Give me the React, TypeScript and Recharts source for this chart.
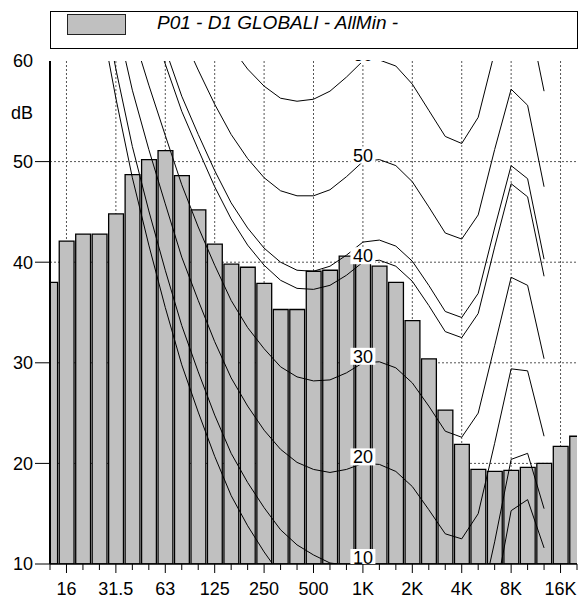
import React from 'react';
import { ComposedChart, Bar, Line, XAxis, YAxis, CartesianGrid, Legend } from 'recharts';

// ---------- data ----------
const seriesName = 'P01 - D1 GLOBALI - AllMin -';

const bands = [
  '12.5', '16', '20', '25', '31.5', '40', '50', '63', '80', '100', '125', '160', '200', '250', '315', '400',
  '500', '630', '800', '1K', '1.25K', '1.6K', '2K', '2.5K', '3.15K', '4K', '5K', '6.3K', '8K', '10K', '12.5K',
  '16K', '20K',
];
const shownLabels = ['16', '31.5', '63', '125', '250', '500', '1K', '2K', '4K', '8K', '16K'];
const yTicks = [10, 20, 30, 40, 50, 60];
const gridLevels = [20, 30, 40, 50];

// measured third-octave levels (dB)
const levels = [
  38.0, 42.1, 42.8, 42.8, 44.8, 48.7, 50.2, 51.1, 48.6, 45.2, 41.8, 39.8, 39.5, 37.9, 35.3, 35.3,
  39.1, 39.2, 40.6, 40.6, 39.6, 38.0, 34.2, 30.4, 25.3, 21.9, 19.4, 19.2, 19.3, 19.6, 20.0, 21.7, 22.7,
];

// equal-loudness contours, 20 Hz .. 12.5 kHz
const contourStart = '20';
const threshold = [74.3, 65.0, 56.3, 48.4, 41.7, 35.5, 29.8, 25.1, 20.7, 16.8, 13.8, 11.2, 8.9, 7.2, 6.0, 5.0, 4.4, 4.2, 3.7, 2.6, 1.0, -1.2, -3.6, -3.9, -1.1, 6.6, 15.3, 16.4, 11.6];
const phon10 = [76.8, 67.7, 59.2, 51.5, 45.1, 39.2, 33.7, 29.1, 24.8, 21.0, 18.1, 15.6, 13.4, 11.9, 10.9, 10.1, 9.9, 10.0, 9.7, 8.7, 7.2, 5.0, 2.6, 2.2, 4.8, 12.2, 20.4, 21.0, 15.5];
const phon20 = [81.3, 72.5, 64.3, 57.1, 51.2, 45.8, 40.5, 36.2, 32.1, 28.5, 25.7, 23.3, 21.4, 20.1, 19.4, 19.1, 19.4, 20.0, 19.9, 19.2, 17.7, 15.4, 13.0, 12.5, 15.0, 22.0, 29.4, 29.2, 22.7];
const phon30 = [86.0, 77.6, 69.7, 62.9, 57.6, 52.6, 47.7, 43.5, 39.7, 36.2, 33.5, 31.4, 29.6, 28.6, 28.2, 28.3, 29.0, 30.0, 30.1, 29.5, 28.0, 25.7, 23.2, 22.6, 25.0, 31.7, 38.5, 37.7, 30.4];
const phon40 = [91.0, 82.9, 75.4, 69.0, 64.3, 59.7, 55.0, 51.2, 47.5, 44.3, 41.7, 39.7, 38.2, 37.4, 37.3, 37.7, 38.7, 40.0, 40.2, 39.6, 38.1, 35.7, 33.1, 32.5, 34.9, 41.5, 47.8, 46.5, 38.6];
const phon42 = [92.0, 84.0, 76.5, 70.3, 65.6, 61.2, 56.5, 52.7, 49.1, 45.9, 43.4, 41.4, 40.0, 39.2, 39.1, 39.6, 40.7, 42.0, 42.2, 41.6, 40.1, 37.7, 35.1, 34.5, 36.9, 43.4, 49.6, 48.3, 40.3];
const phon50 = [96.2, 88.5, 81.3, 75.4, 71.3, 67.1, 62.7, 59.1, 55.7, 52.7, 50.3, 48.4, 47.1, 46.6, 46.6, 47.2, 48.5, 50.0, 50.2, 49.6, 48.0, 45.5, 42.9, 42.3, 44.7, 51.2, 57.2, 55.6, 47.5];
const phon60 = [101.7, 94.4, 87.6, 82.1, 78.6, 74.8, 70.6, 67.3, 64.2, 61.4, 59.2, 57.5, 56.3, 56.0, 56.2, 57.0, 58.4, 60.0, 60.1, 59.5, 57.7, 55.1, 52.5, 51.8, 54.4, 60.9, 66.7, 65.0, 57.0];

const contours = [
  { key: 't', values: threshold, label: '' },
  { key: 'p42', values: phon42, label: '' },
  { key: 'p10', values: phon10, label: '10' },
  { key: 'p20', values: phon20, label: '20' },
  { key: 'p30', values: phon30, label: '30' },
  { key: 'p40', values: phon40, label: '40' },
  { key: 'p50', values: phon50, label: '50' },
  { key: 'p60', values: phon60, label: '60' },
];
const contourLabelBand = '1K';

// ---------- layout ----------
const CHART_W = 579;
const CHART_H = 599;
const MARGIN = { top: 61, right: 2, bottom: 0, left: 0 };
const Y_AXIS_W = 50;
const X_AXIS_H = 35;
const PLOT_LEFT = MARGIN.left + Y_AXIS_W;
const PLOT_TOP = MARGIN.top;
const PLOT_W = CHART_W - MARGIN.right - PLOT_LEFT;
const PLOT_H = CHART_H - MARGIN.bottom - X_AXIS_H - PLOT_TOP;
const FONT = "'Liberation Sans', Arial, Helvetica, sans-serif";

const startIdx = bands.indexOf(contourStart);
const rows = bands.map((band, i) => {
  const row: Record<string, any> = { i, band, level: levels[i] };
  contours.forEach((c) => {
    const k = i - startIdx;
    row[c.key] = k >= 0 && k < c.values.length ? c.values[k] : null;
  });
  return row;
});
const allIdx = rows.map((r) => r.i);
const octaveIdx = shownLabels.map((l) => bands.indexOf(l));
const labelIdx = bands.indexOf(contourLabelBand);

const XTick = (props: any) => {
  const { x, y, payload } = props;
  const label = bands[payload.value];
  const major = shownLabels.includes(label);
  return (
    <g>
      <line x1={x} x2={x} y1={y} y2={y + (major ? 9 : 6)} stroke="#000" strokeWidth={1} />
      {major && (
        <text x={x} y={y + 31} textAnchor="middle" fontSize={18} fontFamily={FONT} fill="#000">
          {label}
        </text>
      )}
    </g>
  );
};

const YTick = (props: any) => {
  const { x, y, payload } = props;
  const v = payload.value;
  return (
    <g>
      {v !== yTicks[yTicks.length - 1] && (
        <line x1={x - 15} x2={x} y1={y} y2={y} stroke="#000" strokeWidth={1} />
      )}
      <text x={x - 17} y={y} dy="0.355em" textAnchor="end" fontSize={18} fontFamily={FONT} fill="#000">
        {v}
      </text>
    </g>
  );
};

const makeContourLabel = (text: string, id: string) => (props: any) => {
  const vb = props.viewBox || {};
  const x = props.x ?? vb.x;
  const y = props.y ?? vb.y;
  if (!text || props.index !== labelIdx || x == null || y == null) return null;
  return (
    <g>
      <defs>
        <clipPath id={id}>
          <rect x={PLOT_LEFT} y={PLOT_TOP - 1} width={PLOT_W} height={PLOT_H + 1} />
        </clipPath>
      </defs>
      <g clipPath={`url(#${id})`}>
        <rect x={x - 12.5} y={y - 15} width={25} height={17} fill="#fff" />
        <text x={x} y={y} textAnchor="middle" fontSize={18} fontFamily={FONT} fill="#000">
          {text}
        </text>
      </g>
    </g>
  );
};

const LegendBox = () => (
  <div
    style={{
      boxSizing: 'border-box',
      width: '100%',
      height: '100%',
      border: '1px solid #000',
      position: 'relative',
      background: '#fff',
      fontFamily: FONT,
    }}
  >
    <div
      style={{
        position: 'absolute',
        left: 16,
        top: 2,
        width: 59,
        height: 21,
        boxSizing: 'border-box',
        background: '#c0c0c0',
        border: '1.5px solid #222',
      }}
    />
    <span
      style={{
        position: 'absolute',
        left: 106,
        top: 1,
        fontSize: 19,
        lineHeight: '19px',
        fontStyle: 'italic',
        whiteSpace: 'nowrap',
        color: '#000',
      }}
    >
      {seriesName}
    </span>
  </div>
);

export default function App() {
  return (
    <div style={{ position: 'fixed', left: 0, top: 0, width: CHART_W, height: CHART_H, background: '#fff' }}>
      <ComposedChart
        width={CHART_W}
        height={CHART_H}
        data={rows}
        margin={MARGIN}
        barCategoryGap={0}
        barGap={0}
      >
        <CartesianGrid
          stroke="#555"
          strokeDasharray="2 2"
          horizontalValues={gridLevels}
          verticalValues={octaveIdx}
        />
        <Bar
          dataKey="level"
          name={seriesName}
          fill="#c0c0c0"
          stroke="#000"
          strokeWidth={1.3}
          barSize={PLOT_W / (bands.length - 1)}
          isAnimationActive={false}
        />
        <XAxis
          dataKey="i"
          type="number"
          domain={[0, bands.length - 1]}
          ticks={allIdx}
          interval={0}
          allowDataOverflow
          height={X_AXIS_H}
          tickSize={0}
          tickMargin={0}
          tickLine={false}
          tick={<XTick />}
          axisLine={{ stroke: '#000', strokeWidth: 1.5 }}
        />
        <YAxis
          type="number"
          domain={[yTicks[0], yTicks[yTicks.length - 1]]}
          ticks={yTicks}
          interval={0}
          allowDataOverflow
          width={Y_AXIS_W}
          tickSize={0}
          tickMargin={0}
          tickLine={false}
          tick={<YTick />}
          axisLine={{ stroke: '#000', strokeWidth: 2 }}
          label={{
            content: (p: any) => {
              const vb = p.viewBox || { x: 0, y: PLOT_TOP, width: Y_AXIS_W };
              return (
                <text
                  x={vb.x + vb.width - 17}
                  y={vb.y + 51.5}
                  dy="0.355em"
                  textAnchor="end"
                  fontSize={18}
                  fontFamily={FONT}
                  fill="#000"
                >
                  dB
                </text>
              );
            },
          }}
        />
        <XAxis
          xAxisId="frameTop"
          orientation="top"
          type="number"
          domain={[0, 1]}
          height={0}
          tick={false}
          tickLine={false}
          axisLine={{ stroke: '#000', strokeWidth: 2 }}
        />
        <YAxis
          yAxisId="frameRight"
          orientation="right"
          type="number"
          domain={[0, 1]}
          width={0}
          tick={false}
          tickLine={false}
          axisLine={{ stroke: '#000', strokeWidth: 2 }}
        />
        {contours.map((c) => (
          <Line
            key={c.key}
            dataKey={c.key}
            type="linear"
            stroke="#000"
            strokeWidth={1}
            dot={false}
            activeDot={false}
            legendType="none"
            connectNulls={false}
            isAnimationActive={false}
            label={c.label ? makeContourLabel(c.label, `clip-lbl-${c.key}`) : false}
          />
        ))}
        <Legend
          layout="horizontal"
          verticalAlign="middle"
          align="center"
          wrapperStyle={{ left: PLOT_LEFT, top: 11, width: PLOT_W + 1, height: 38 }}
          content={() => <LegendBox />}
        />
      </ComposedChart>
    </div>
  );
}
